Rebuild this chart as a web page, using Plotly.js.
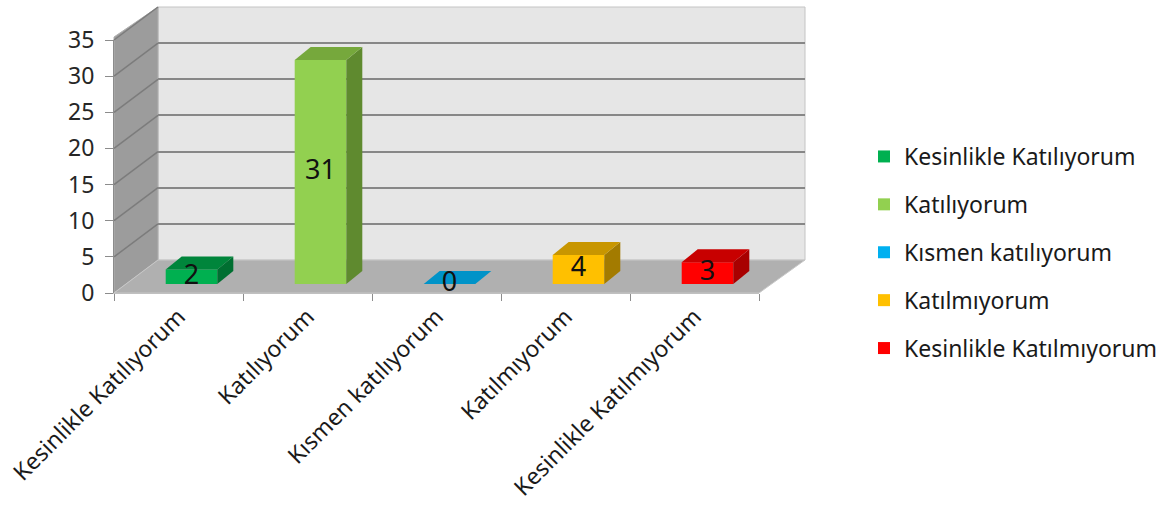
<!DOCTYPE html>
<html>
<head>
<meta charset="utf-8">
<script src="https://cdn.plot.ly/plotly-3.0.1.min.js"></script>
<style>html,body{margin:0;padding:0;background:#fff;}#chart{width:1174px;height:511px;}</style>
</head>
<body>
<div id="chart"></div>
<script>
// ---- data ----
const categories = ["Kesinlikle Katılıyorum", "Katılıyorum", "Kısmen katılıyorum", "Katılmıyorum", "Kesinlikle Katılmıyorum"];
const values = [2, 31, 0, 4, 3];
const yTicks = [0, 5, 10, 15, 20, 25, 30, 35];

// ---- styles ----
const frontColors = ["#00b050", "#92d050", "#00b0f0", "#ffc000", "#ff0000"];
const topColors = ["#00853b", "#76a83c", "#0093c8", "#c89600", "#c80000"];
const sideColors = ["#006f31", "#5f8a2f", "#007aa8", "#a37b00", "#a80000"];
const FONT = "Noto Sans, Open Sans, sans-serif";
const W = 1174, H = 511;
const X = px => px / W;
const Y = py => 1 - py / H;

// 3D geometry (pixels)
const front = {x0: 114, x1: 759, y0: 293, y35: 40};
const back = {x0: 158, x1: 805, y0: 260, y35: 7};
const barPlane = {x0: 127, x1: 772, y0: 284, y35: 31};
const halfW = 0.2;
const depthPx = {dx: 16, dy: 13};
const unitX = (barPlane.x1 - barPlane.x0) / categories.length;
const unitY = (barPlane.y0 - barPlane.y35) / 35;
const dxU = depthPx.dx / unitX, dyU = depthPx.dy / unitY;

const traces = [];
// back wall grid subplot (x,y)
traces.push({type: "scatter", x: [0, 1], y: [0, 0], mode: "none", xaxis: "x", yaxis: "y", showlegend: false, hoverinfo: "skip"});
// front axes subplot (x3,y3)
traces.push({type: "scatter", x: categories, y: values.map(() => 0), mode: "none", xaxis: "x3", yaxis: "y3", showlegend: false, hoverinfo: "skip"});

// bars (front faces)
categories.forEach((c, i) => {
  traces.push({
    type: "bar", x: [i], y: [values[i]], name: c, width: halfW * 2,
    xaxis: "x2", yaxis: "y2", legendgroup: "g" + i,
    marker: {color: frontColors[i], line: {width: 0}},
    hoverinfo: "name+y"
  });
});
// side and top faces
categories.forEach((c, i) => {
  const v = values[i];
  const l = i - halfW, r = i + halfW;
  traces.push({
    type: "scatter", mode: "lines", fill: "toself", fillcolor: sideColors[i],
    line: {width: 0}, x: [r, r + dxU, r + dxU, r, r], y: [0, dyU, v + dyU, v, 0],
    xaxis: "x2", yaxis: "y2", showlegend: false, hoverinfo: "skip", cliponaxis: false
  });
  traces.push({
    type: "scatter", mode: "lines", fill: "toself", fillcolor: topColors[i],
    line: {width: 0}, x: [l, r, r + dxU, l + dxU, l], y: [v, v, v + dyU, v + dyU, v],
    xaxis: "x2", yaxis: "y2", showlegend: false, hoverinfo: "skip", cliponaxis: false
  });
});
// data labels
traces.push({
  type: "scatter", mode: "text", x: categories.map((c, i) => i), y: values.map(v => v / 2),
  text: values.map(String), textposition: "middle center",
  textfont: {family: FONT, size: 27, color: "#111"},
  xaxis: "x2", yaxis: "y2", showlegend: false, hoverinfo: "skip", cliponaxis: false
});

// decoration shapes
const fy = v => front.y0 - (front.y0 - front.y35) * v / 35;
const by = v => back.y0 - (back.y0 - back.y35) * v / 35;
const poly = pts => "M" + pts.map(p => X(p[0]) + "," + Y(p[1])).join("L") + "Z";
const shapes = [
  {type: "path", xref: "paper", yref: "paper", layer: "below",
   path: poly([[back.x0, back.y35], [back.x1, back.y35], [back.x1, back.y0], [back.x0, back.y0]]),
   fillcolor: "#e6e6e6", line: {color: "#c4c4c4", width: 1}},
  {type: "path", xref: "paper", yref: "paper", layer: "below",
   path: poly([[front.x0, 37], [back.x0, back.y35], [back.x0, back.y0], [front.x0, front.y0]]),
   fillcolor: "#9c9c9c", line: {color: "#b0b0b0", width: 1}},
  {type: "path", xref: "paper", yref: "paper", layer: "below",
   path: poly([[front.x0, front.y0], [back.x0, back.y0], [back.x1, back.y0], [front.x1, front.y0]]),
   fillcolor: "#b0b0b0", line: {color: "#c8c8c8", width: 1}}
];
yTicks.filter(v => v > 0).forEach(v => {
  shapes.push({type: "line", xref: "paper", yref: "paper", layer: "below",
    x0: X(front.x0), y0: Y(fy(v)), x1: X(back.x0), y1: Y(by(v)),
    line: {color: "#7c7c7c", width: 1.5}});
});

const layout = {
  width: W, height: H,
  margin: {l: 0, r: 0, t: 0, b: 0},
  paper_bgcolor: "#ffffff", plot_bgcolor: "rgba(0,0,0,0)",
  font: {family: FONT, color: "#222"},
  barmode: "overlay",
  showlegend: true,
  legend: {
    x: X(864), y: Y(135), xanchor: "left", yanchor: "top",
    font: {family: FONT, size: 23, color: "#1a1a1a"},
    tracegroupgap: 15, bgcolor: "rgba(0,0,0,0)"
  },
  xaxis: {domain: [X(back.x0), X(back.x1)], range: [0, 1], anchor: "y", visible: true,
          showgrid: false, zeroline: false, showticklabels: false, ticks: "", showline: false},
  yaxis: {domain: [Y(back.y0), Y(back.y35)], range: [0, 35], anchor: "x", dtick: 5, tick0: 0,
          showgrid: true, gridcolor: "#878787", gridwidth: 2, zeroline: false,
          showticklabels: false, ticks: "", showline: false},
  xaxis2: {domain: [X(barPlane.x0), X(barPlane.x1)], range: [-0.5, 4.5], anchor: "y2",
           visible: false, fixedrange: true},
  yaxis2: {domain: [Y(barPlane.y0), Y(barPlane.y35)], range: [0, 35], anchor: "x2",
           visible: false, fixedrange: true},
  xaxis3: {domain: [X(front.x0), X(front.x1)], range: [-0.5, 4.5], anchor: "y3", type: "category",
           categoryorder: "array", categoryarray: categories,
           tickson: "boundaries", ticks: "outside", ticklen: 7, tickcolor: "#8c8c8c", tickwidth: 1,
           showline: true, linecolor: "#c0c0c0", linewidth: 1, showgrid: false, zeroline: false,
           tickangle: -45, tickfont: {family: FONT, size: 23, color: "#1a1a1a"}},
  yaxis3: {domain: [Y(front.y0), Y(front.y35)], range: [0, 35], anchor: "x3",
           tickvals: yTicks, ticktext: yTicks.map(String),
           ticks: "outside", ticklen: 8, tickcolor: "#8c8c8c", showline: true, linecolor: "#8c8c8c",
           showgrid: false, zeroline: false, ticklabelstandoff: 6,
           tickfont: {family: FONT, size: 23, color: "#262626"}},
  shapes: shapes
};

Plotly.newPlot("chart", traces, layout, {displayModeBar: false, staticPlot: true});
</script>
</body>
</html>
